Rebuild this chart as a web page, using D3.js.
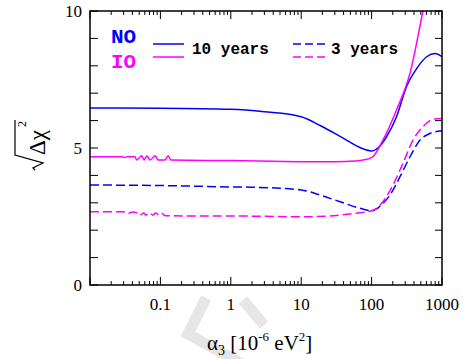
<!DOCTYPE html>
<html>
<head>
<meta charset="utf-8">
<script src="https://cdn.jsdelivr.net/npm/d3@7"></script>
<style>
  html, body { margin: 0; padding: 0; background: #fff; }
  svg { display: block; }
</style>
</head>
<body>
<div id="chart"></div>
<script>
// alpha_3 in 10^-6 eV^2 vs sqrt(delta chi^2)
const no10 = [
  [0.01, 6.46], [0.1, 6.45], [1, 6.41], [3, 6.32], [10, 6.14], [18.6, 5.82],
  [40, 5.35], [72, 4.99], [100, 4.89], [124, 5.01], [163, 5.41], [226, 6.14],
  [313, 7.24], [437, 7.9], [606, 8.33], [795, 8.45], [1000, 8.33]
];
const io10 = [
  [0.01, 4.68], [0.0285, 4.68], [0.031, 4.65], [0.034, 4.68], [0.0436, 4.68],
  [0.0461, 4.56], [0.0543, 4.72], [0.0584, 4.56], [0.0645, 4.72], [0.071, 4.56],
  [0.0847, 4.72], [0.0925, 4.56], [0.116, 4.56], [0.129, 4.72], [0.141, 4.56],
  [1, 4.54], [10, 4.5], [30, 4.5], [60, 4.53], [100, 4.65], [145, 5.29],
  [226, 6.39], [351, 7.73], [537, 10.0], [700, 11.4]
];
const no3 = [
  [0.01, 3.65], [0.1, 3.63], [1, 3.58], [1.87, 3.57], [10, 3.47], [18.6, 3.28],
  [35.6, 3.04], [68, 2.8], [100, 2.71], [145, 2.98], [182, 3.28], [253, 3.95],
  [351, 4.68], [487, 5.29], [675, 5.53], [1000, 5.63]
];
const io3 = [
  [0.01, 2.67], [0.03, 2.67], [0.034, 2.6], [0.04, 2.66], [0.046, 2.64],
  [0.0513, 2.55], [0.058, 2.63], [0.0623, 2.55], [0.071, 2.63], [0.078, 2.55],
  [0.086, 2.63], [0.0954, 2.55], [0.105, 2.62], [0.116, 2.53], [0.3, 2.52],
  [1, 2.52], [10, 2.49], [25, 2.52], [60, 2.62], [100, 2.71], [145, 3.04],
  [201, 3.65], [279, 4.44], [387, 5.29], [537, 5.78], [745, 6.05], [1000, 6.08]
];
const xTickValues = [0.1, 1, 10, 100, 1000];
const yTickLabels = [0, 5, 10];

const width = 465, height = 359;
const margin = { left: 90, right: 23, top: 11, bottom: 74 };
const innerW = width - margin.left - margin.right;
const innerH = height - margin.top - margin.bottom;
const blue = "#0000ff", magenta = "#ff00ff";
const serif = "'Liberation Serif', 'Times New Roman', Times, serif";
const mono = "'Liberation Mono', 'Courier New', Courier, monospace";

const x = d3.scaleLog().domain([0.01, 1000]).range([0, innerW]);
const y = d3.scaleLinear().domain([0, 10]).range([innerH, 0]);

const svg = d3.select("#chart").append("svg")
  .attr("width", width).attr("height", height);

// faint watermark behind everything
svg.append("path")
  .attr("d", "M206,298 L188,334 L242,364")
  .attr("fill", "none").attr("stroke", "#e6e6e6").attr("stroke-width", 11);
svg.append("path")
  .attr("d", "M243,300 L264,325")
  .attr("fill", "none").attr("stroke", "#e6e6e6").attr("stroke-width", 11);

const root = svg.append("g").attr("transform", `translate(${margin.left},${margin.top})`);

svg.append("defs").append("clipPath").attr("id", "plot-clip")
  .append("rect").attr("width", innerW).attr("height", innerH);

// ticks: minor decades
const minorX = [];
for (let e = -2; e < 3; e++) {
  for (let m = 2; m <= 9; m++) minorX.push(m * Math.pow(10, e));
}
const majorX = [0.01].concat(xTickValues);
const yTicks = d3.range(0, 11);

const ticks = root.append("g").attr("stroke", "#000").attr("stroke-width", 1);
minorX.forEach((v) => {
  ticks.append("line").attr("x1", x(v)).attr("x2", x(v)).attr("y1", innerH).attr("y2", innerH - 4);
  ticks.append("line").attr("x1", x(v)).attr("x2", x(v)).attr("y1", 0).attr("y2", 4);
});
majorX.forEach((v) => {
  ticks.append("line").attr("x1", x(v)).attr("x2", x(v)).attr("y1", innerH).attr("y2", innerH - 8);
  ticks.append("line").attr("x1", x(v)).attr("x2", x(v)).attr("y1", 0).attr("y2", 8);
});
yTicks.forEach((v) => {
  ticks.append("line").attr("x1", 0).attr("x2", 8).attr("y1", y(v)).attr("y2", y(v));
  ticks.append("line").attr("x1", innerW).attr("x2", innerW - 7).attr("y1", y(v)).attr("y2", y(v));
});

// tick labels
root.selectAll(".xl").data(xTickValues).join("text")
  .attr("x", (d) => x(d)).attr("y", innerH + 25)
  .attr("text-anchor", "middle")
  .style("font-family", serif)
  .attr("font-size", 17)
  .text((d) => d);
root.selectAll(".yl").data(yTickLabels).join("text")
  .attr("x", -8).attr("y", (d) => y(d) + 6)
  .attr("text-anchor", "end")
  .style("font-family", serif)
  .attr("font-size", 17)
  .text((d) => d);

// curves
const line = d3.line()
  .x((d) => x(d[0]))
  .y((d) => y(d[1]))
  .curve(d3.curveMonotoneX);
const series = [
  { data: no10, color: blue, dash: null },
  { data: io10, color: magenta, dash: null },
  { data: no3, color: blue, dash: "9 4" },
  { data: io3, color: magenta, dash: "9 4" }
];
root.append("g").attr("clip-path", "url(#plot-clip)")
  .selectAll("path").data(series).join("path")
  .attr("d", (d) => line(d.data))
  .attr("fill", "none")
  .attr("stroke", (d) => d.color)
  .attr("stroke-width", 1.5)
  .attr("stroke-dasharray", (d) => d.dash);

// frame
root.append("rect").attr("width", innerW).attr("height", innerH)
  .attr("fill", "none").attr("stroke", "#000").attr("stroke-width", 1.5);

// legend
svg.append("text").attr("x", 111).attr("y", 43).attr("fill", blue)
  .style("font-family", mono).attr("font-weight", "bold").attr("font-size", 21)
  .text("NO");
svg.append("text").attr("x", 111).attr("y", 68).attr("fill", magenta)
  .style("font-family", mono).attr("font-weight", "bold").attr("font-size", 21)
  .text("IO");
const legendLines = [
  { x0: 153, x1: 184, yy: 44, color: blue, dash: null },
  { x0: 153, x1: 184, yy: 57, color: magenta, dash: null },
  { x0: 293, x1: 325, yy: 44, color: blue, dash: "8 4" },
  { x0: 293, x1: 325, yy: 57, color: magenta, dash: "8 4" }
];
svg.selectAll(".lg").data(legendLines).join("line")
  .attr("x1", (d) => d.x0).attr("x2", (d) => d.x1)
  .attr("y1", (d) => d.yy).attr("y2", (d) => d.yy)
  .attr("stroke", (d) => d.color).attr("stroke-width", 1.5)
  .attr("stroke-dasharray", (d) => d.dash);
svg.append("text").attr("x", 192).attr("y", 54)
  .style("font-family", mono).attr("font-weight", "bold").attr("font-size", 16)
  .text("10 years");
svg.append("text").attr("x", 331).attr("y", 54)
  .style("font-family", mono).attr("font-weight", "bold").attr("font-size", 16)
  .text("3 years");

// x title
const xt = svg.append("text").attr("x", 207).attr("y", 350)
  .style("font-family", serif).attr("font-size", 21);
xt.append("tspan").text("α");
xt.append("tspan").attr("font-size", 14).attr("dy", 5).text("3");
xt.append("tspan").attr("dy", -5).text(" [10");
xt.append("tspan").attr("font-size", 13).attr("dy", -9).text("-6");
xt.append("tspan").attr("dy", 9).text(" eV");
xt.append("tspan").attr("font-size", 13).attr("dy", -9).text("2");
xt.append("tspan").attr("dy", 9).text("]");

// y title: sqrt(delta chi^2), rotated
const yt = svg.append("g").attr("transform", "translate(45,155) rotate(-90)");
yt.append("text").attr("x", 0).attr("y", 0)
  .style("font-family", serif).attr("font-size", 23).text("Δχ");
yt.append("text").attr("x", 28).attr("y", -19)
  .style("font-family", serif).attr("font-size", 12).text("2");
yt.append("path")
  .attr("d", "M35,-30 L0,-30 L-8,-2 L-13,-12 L-15,-10")
  .attr("fill", "none").attr("stroke", "#000").attr("stroke-width", 1.2);
</script>
</body>
</html>
